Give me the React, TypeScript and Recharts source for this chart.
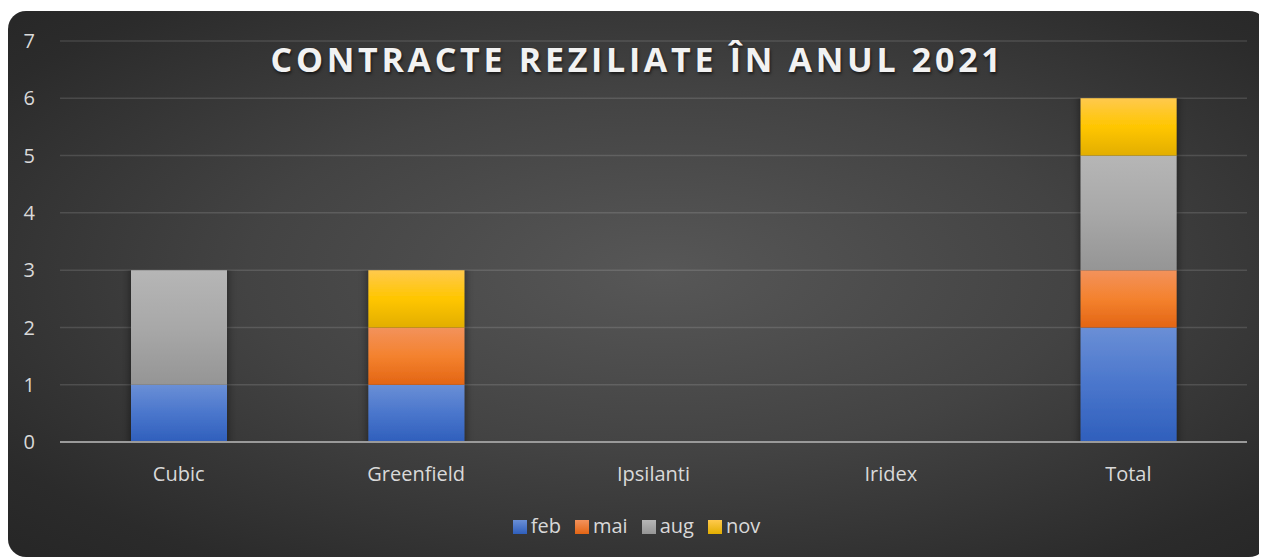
import { BarChart, Bar, XAxis, YAxis, CartesianGrid, Legend } from 'recharts';

const companies = ['Cubic', 'Greenfield', 'Ipsilanti', 'Iridex', 'Total'];
const feb = [1, 1, 0, 0, 2];
const mai = [0, 1, 0, 0, 1];
const aug = [2, 0, 0, 0, 2];
const nov = [0, 1, 0, 0, 1];
const yTicks = [0, 1, 2, 3, 4, 5, 6, 7];

const SERIES = [
  { key: 'feb', top: '#6a8fd6', mid: '#4a76cc', bottom: '#2f5fbc' },
  { key: 'mai', top: '#f3925c', mid: '#f4822e', bottom: '#e36514' },
  { key: 'aug', top: '#b6b6b6', mid: '#a8a8a8', bottom: '#959595' },
  { key: 'nov', top: '#ffc94d', mid: '#ffc600', bottom: '#e2ae00' },
];

const data = companies.map((name, i) => ({
  name,
  feb: feb[i],
  mai: mai[i],
  aug: aug[i],
  nov: nov[i],
}));

const FONT = '"Open Sans", "Noto Sans", sans-serif';

function LegendRow() {
  return (
    <div style={{ display: 'flex', justifyContent: 'center', gap: 14, paddingTop: 5, paddingLeft: 18, fontFamily: FONT }}>
      {SERIES.map((s) => (
        <div key={s.key} style={{ display: 'flex', alignItems: 'center' }}>
          <div style={{ width: 14, height: 14, marginRight: 4, marginTop: 3, background: `linear-gradient(${s.top}, ${s.bottom})` }} />
          <span style={{ fontSize: 20, color: '#d9d9d9' }}>{s.key}</span>
        </div>
      ))}
    </div>
  );
}

export default function App() {
  return (
    <div
      style={{
        position: 'relative',
        width: 1259,
        height: 546,
        marginTop: 3,
        borderRadius: 18,
        overflow: 'hidden',
        background: 'radial-gradient(ellipse at 52% 48%, #575757 0%, #434343 45%, #2b2b2b 85%, #262626 100%)',
      }}
    >
      <div
        style={{
          position: 'absolute',
          top: 25,
          left: 0,
          width: '100%',
          textAlign: 'center',
          fontFamily: FONT,
          fontWeight: 700,
          fontSize: 34,
          letterSpacing: 3.7,
          color: '#f2f2f2',
          textShadow: '1px 2px 3px rgba(0,0,0,0.6)',
          zIndex: 2,
        }}
      >
        CONTRACTE REZILIATE ÎN ANUL 2021
      </div>
      <BarChart
        width={1259}
        height={546}
        data={data}
        margin={{ top: 30, right: 20, left: 0, bottom: 10 }}
        barSize={96}
      >
        <defs>
          {SERIES.map((s) => (
            <linearGradient key={s.key} id={`grad-${s.key}`} x1="0" y1="0" x2="0" y2="1">
              <stop offset="0%" stopColor={s.top} />
              <stop offset="50%" stopColor={s.mid} />
              <stop offset="100%" stopColor={s.bottom} />
            </linearGradient>
          ))}
          <filter id="barShadow" x="-20%" y="0%" width="140%" height="100%">
            <feDropShadow dx="0" dy="0" stdDeviation="5 0" floodColor="#000" floodOpacity="0.55" />
          </filter>
        </defs>
        <CartesianGrid vertical={false} stroke="rgba(255,255,255,0.13)" strokeWidth={1.5} />
        <XAxis
          dataKey="name"
          tickSize={0}
          tickMargin={25}
          height={65}
          axisLine={{ stroke: '#9a9a9a', strokeWidth: 2 }}
          tick={{ fill: '#d9d9d9', fontSize: 20, fontFamily: FONT }}
        />
        <YAxis
          domain={[0, 7]}
          ticks={yTicks}
          width={52}
          tickSize={0}
          tickMargin={25}
          axisLine={false}
          tick={{ fill: '#d9d9d9', fontSize: 20, fontFamily: FONT }}
        />
        <Legend verticalAlign="bottom" height={40} content={() => <LegendRow />} />
        {SERIES.map((s) => (
          <Bar
            key={s.key}
            dataKey={s.key}
            stackId="a"
            fill={`url(#grad-${s.key})`}
            filter="url(#barShadow)"
            isAnimationActive={false}
          />
        ))}
      </BarChart>
    </div>
  );
}
